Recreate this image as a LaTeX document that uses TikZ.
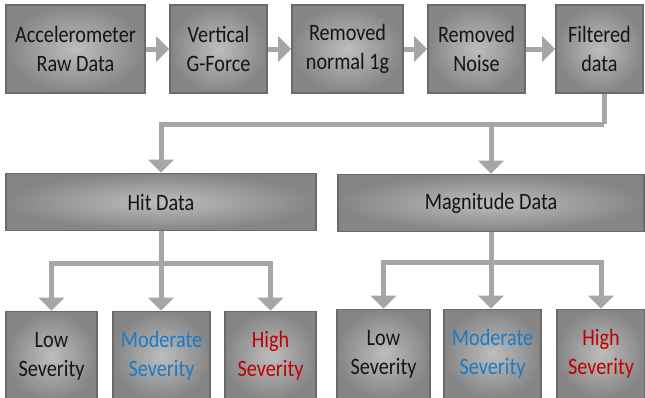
\documentclass[tikz,border=0pt]{standalone}
\usepackage{fontspec}
\setmainfont{Carlito}[FakeStretch=0.86]
\usetikzlibrary{arrows.meta}
\definecolor{boxin}{HTML}{BDBDBD}
\definecolor{boxout}{HTML}{858585}
\definecolor{boxline}{HTML}{6A6A6A}
\definecolor{conn}{HTML}{A6A6A6}
\definecolor{modblue}{HTML}{1B7BC6}
\definecolor{highred}{HTML}{C00000}
\definecolor{txt}{HTML}{151515}
\tikzset{
  box/.style={draw=boxline, line width=1.8pt, inner color=boxin, outer color=boxout,
    align=center, font=\fontsize{23.5}{29}\selectfont, inner sep=0pt, text=txt},
  conn/.style={draw=conn, line width=5pt},
  arr/.style={conn, -{Triangle[width=25pt,length=13pt]}},
}
\begin{document}
\begin{tikzpicture}[x=1pt,y=-1pt]
\useasboundingbox (0,0) rectangle (645,397);
\clip (0,0) rectangle (645,397);
% top row
\node[box, minimum width=139pt, minimum height=88pt] (a) at (75.5,49) {Accelerometer\\Raw Data};
\node[box, minimum width=97pt, minimum height=88pt] (b) at (218.5,49) {Vertical\\G-Force};
\node[box, minimum width=111pt, minimum height=88pt] (c) at (347.5,49) {Removed\\normal 1g};
\node[box, minimum width=97pt, minimum height=88pt] (d) at (476.5,49) {Removed\\Noise};
\node[box, minimum width=87pt, minimum height=88pt] (e) at (599.5,49) {Filtered\\data};
% middle row
\node[box, minimum width=310pt, minimum height=57pt] (hit) at (161,202) {Hit Data};
\node[box, minimum width=306pt, minimum height=57pt] (mag) at (491,203) {Magnitude Data};
% bottom row
\node[box, minimum width=91pt, minimum height=89pt] (l1) at (51.5,356) {Low\\Severity};
\node[box, minimum width=97pt, minimum height=89pt, text=modblue] (m1) at (161.5,356) {Moderate\\Severity};
\node[box, minimum width=91pt, minimum height=89pt, text=highred] (h1) at (270.5,356) {High\\Severity};
\node[box, minimum width=93pt, minimum height=89pt] (l2) at (383.5,354) {Low\\Severity};
\node[box, minimum width=97pt, minimum height=89pt, text=modblue] (m2) at (492.5,354) {Moderate\\Severity};
\node[box, minimum width=88pt, minimum height=89pt, text=highred] (h2) at (601,354) {High\\Severity};
% connectors
\draw[arr] (a.east) -- (b.west);
\draw[arr] (b.east) -- (c.west);
\draw[arr] (c.east) -- (d.west);
\draw[arr] (d.east) -- (e.west);
\coordinate (j1) at (604,124);
\coordinate (j2) at (mag.north |- j1);
\draw[conn] (e.south -| j1) -- (j1);
\draw[arr] (j1) -| (hit.north);
\draw[arr] (j2) -- (mag.north);
\coordinate (k1) at (hit.south |- 0,263);
\draw[conn] (hit.south) -- (k1);
\draw[arr] (k1) -| (l1.north);
\draw[arr] (k1) -| (h1.north);
\draw[arr] (k1) -- (k1 |- m1.north);
\coordinate (k2) at (mag.south |- 0,262);
\draw[conn] (mag.south) -- (k2);
\draw[arr] (k2) -| (l2.north);
\draw[arr] (k2) -| (h2.north);
\draw[arr] (k2) -- (k2 |- m2.north);
\end{tikzpicture}
\end{document}
